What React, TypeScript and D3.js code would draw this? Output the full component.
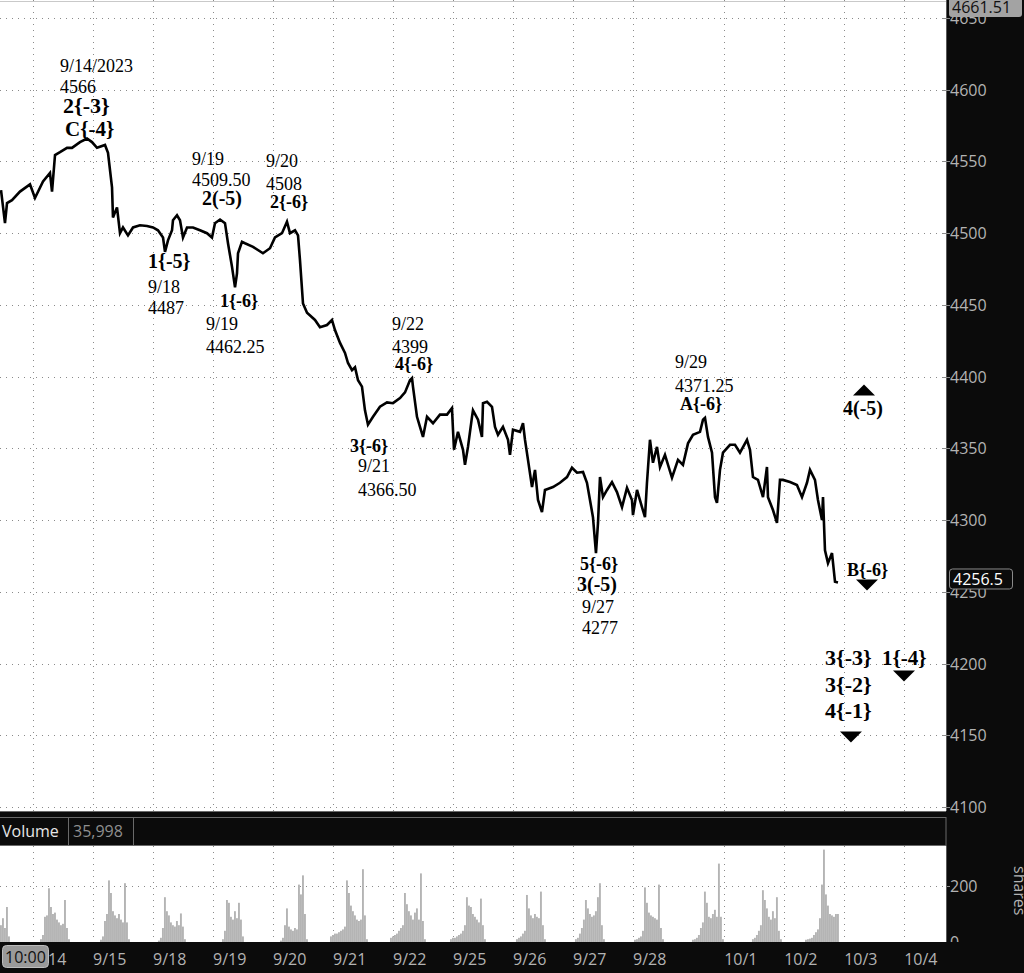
import React from 'react';
import * as d3 from 'd3';

const W = 1024;
const H = 973;

// ---- data ----
// price series: [session time in days since 9/14 gridline, price]
const priceSeries: [number, number][] = [
[-0.533,4530],[-0.467,4507],[-0.433,4521],[-0.35,4523],[-0.217,4529],[-0.05,4534],[0.033,4524.5],[0.167,4536],[0.283,4542],[0.317,4529],[0.367,4554.5],[0.45,4556.5],[0.567,4559.5],[0.65,4559.5],[0.783,4563.5],[0.9,4566],[0.983,4563.5],[1.067,4559.5],[1.2,4561.5],[1.25,4556],[1.317,4532],[1.333,4511],[1.4,4518],[1.45,4500],[1.5,4504],[1.583,4498.5],[1.667,4504],[1.783,4505.5],[1.9,4505],[2.0,4504],[2.083,4502],[2.167,4497],[2.2,4487],[2.25,4495],[2.317,4502],[2.333,4509],[2.4,4512.5],[2.45,4509],[2.5,4497],[2.567,4504],[2.667,4504],[2.783,4502],[2.9,4500],[2.983,4497],[3.033,4507],[3.117,4509.5],[3.2,4507],[3.25,4493],[3.317,4476.5],[3.367,4462.25],[3.4,4472],[3.417,4486],[3.483,4494],[3.533,4493],[3.667,4490.5],[3.833,4486],[3.95,4489.5],[4.033,4497],[4.15,4500],[4.233,4508],[4.283,4500],[4.367,4502],[4.417,4498.5],[4.45,4481],[4.5,4451],[4.567,4444.5],[4.7,4439.5],[4.783,4434.5],[4.9,4436],[4.983,4439.5],[5.033,4432.5],[5.117,4423.5],[5.2,4416.5],[5.25,4409.5],[5.317,4404.5],[5.367,4406.5],[5.417,4397.5],[5.483,4393],[5.533,4376.5],[5.583,4366.5],[5.667,4372],[5.783,4379],[5.9,4382],[6.0,4381.5],[6.117,4385],[6.2,4389],[6.283,4397.5],[6.317,4399],[6.333,4393],[6.4,4372],[6.45,4365],[6.5,4358],[6.567,4372],[6.667,4367.5],[6.783,4373.5],[6.9,4373.5],[6.983,4378],[7.0,4363],[7.017,4349],[7.083,4361.5],[7.167,4349],[7.2,4338.5],[7.25,4351],[7.317,4372],[7.333,4376.5],[7.417,4370],[7.483,4358],[7.5,4381.5],[7.567,4382.5],[7.65,4379],[7.7,4365],[7.75,4359.5],[7.833,4365],[7.917,4356],[7.95,4345.5],[8.0,4363],[8.117,4361.5],[8.167,4367.5],[8.2,4356],[8.25,4342],[8.317,4323],[8.367,4335],[8.417,4314],[8.483,4305.5],[8.533,4321],[8.667,4323],[8.783,4326],[8.9,4330],[8.983,4336.5],[9.067,4333],[9.167,4333.5],[9.233,4326],[9.283,4314],[9.333,4302],[9.383,4277],[9.417,4298],[9.45,4330],[9.5,4316],[9.567,4321],[9.65,4326.5],[9.733,4319.5],[9.817,4309],[9.9,4322.5],[9.983,4314],[10.0,4303.5],[10.067,4321],[10.15,4309],[10.2,4302],[10.233,4326],[10.283,4356],[10.333,4340],[10.4,4351],[10.45,4337],[10.533,4345.5],[10.65,4329.5],[10.75,4342],[10.833,4338.5],[10.917,4353.5],[11.0,4359.5],[11.117,4361.5],[11.167,4370],[11.2,4371.25],[11.25,4358],[11.317,4347],[11.367,4316],[11.4,4312],[11.45,4335],[11.5,4347],[11.617,4352.5],[11.7,4352.5],[11.783,4347],[11.9,4356],[11.95,4349],[12.0,4330],[12.083,4328],[12.167,4316],[12.233,4337],[12.25,4316],[12.333,4307],[12.4,4298],[12.45,4328],[12.5,4328],[12.617,4326.5],[12.733,4324.5],[12.817,4316],[12.9,4326],[12.95,4335],[13.033,4328],[13.083,4314],[13.15,4300],[13.167,4316],[13.2,4279],[13.25,4270],[13.317,4277],[13.367,4257],[13.417,4256.5]
];

const lastPrice = 4256.5;
const highMark = 4661.51;

const priceTicks = [4650, 4600, 4550, 4500, 4450, 4400, 4350, 4300, 4250, 4200, 4150, 4100];
const dateTickLabels = ['9/14', '9/15', '9/18', '9/19', '9/20', '9/21', '9/22', '9/25', '9/26', '9/27', '9/28', '10/1', '10/2', '10/3', '10/4'];
const dateTickTime = [0, 1, 2, 3, 4, 5, 6, 7, 8, 9, 10, 11.52, 12.52, 13.52, 14.52];

const volumeTicks = [0, 200];
const volumeLast = '35,998';
const volumeStep = 1 / 30;
const volumeSessionStart = [-0.55, 0.117, 1.117, 2.083, 3.15, 4.117, 4.95, 5.95, 6.95, 8.05, 9.033, 10.017, 10.983, 11.983, 12.867];
const volumeSessions = [
  [60, 85, 50, 125, 20],
  [10, 25, 90, 95, 192, 125, 100, 105, 80, 70, 60, 65, 150, 50, 10],
  [8, 20, 75, 100, 220, 175, 110, 95, 85, 100, 80, 70, 210, 70, 10],
  [5, 15, 50, 160, 110, 95, 70, 60, 55, 75, 60, 102, 55, 10],
  [10, 40, 150, 140, 90, 80, 110, 85, 140, 80, 20],
  [5, 15, 60, 120, 55, 45, 40, 50, 45, 205, 170, 238, 100, 10],
  [20, 25, 30, 30, 35, 40, 45, 55, 220, 175, 130, 110, 95, 80, 75, 80, 260, 95, 10],
  [15, 20, 25, 30, 40, 50, 60, 175, 135, 110, 95, 80, 105, 120, 80, 245, 75, 10],
  [10, 15, 15, 20, 25, 30, 40, 60, 160, 130, 125, 100, 90, 80, 70, 155, 60, 10],
  [10, 15, 20, 30, 40, 168, 120, 95, 85, 100, 90, 85, 180, 60, 10],
  [10, 15, 30, 50, 80, 150, 120, 100, 90, 95, 110, 160, 210, 60, 10],
  [8, 10, 15, 20, 40, 195, 140, 105, 95, 90, 85, 80, 205, 50, 10],
  [8, 10, 15, 25, 50, 70, 180, 140, 90, 85, 100, 115, 90, 280, 90, 10],
  [10, 15, 25, 40, 60, 185, 150, 120, 90, 80, 110, 85, 160, 40, 10],
  [8, 10, 12, 15, 25, 35, 45, 85, 205, 330, 170, 130, 100, 95, 90, 100, 100],
];

// annotation text anchored at (time, price)
const infoLabels: [string, number, number][] = [
  ['9/14/2023', 0.45, 4612.4],
  ['4566', 0.45, 4597.7],
  ['9/19', 2.65, 4547.5],
  ['4509.50', 2.65, 4532.9],
  ['9/20', 3.883, 4546.1],
  ['4508', 3.883, 4530.1],
  ['9/18', 1.917, 4458.3],
  ['4487', 1.917, 4443.7],
  ['9/19', 2.883, 4432.5],
  ['4462.25', 2.883, 4416.5],
  ['9/22', 5.983, 4432.5],
  ['4399', 5.983, 4416.5],
  ['9/21', 5.417, 4333.5],
  ['4366.50', 5.417, 4316.8],
  ['9/29', 10.7, 4406.0],
  ['4371.25', 10.7, 4389.3],
  ['9/27', 9.15, 4235.2],
  ['4277', 9.15, 4220.6],
];
// wave labels: [text, time, price, degree]
const waveLabels: [string, number, number, number][] = [
  ['2{-3}', 0.5, 4583.8, -3],
  ['C{-4}', 0.533, 4567.8, -4],
  ['2(-5)', 2.817, 4519.7, -5],
  ['2{-6}', 3.95, 4517.6, -6],
  ['1{-5}', 1.917, 4475.7, -5],
  ['1{-6}', 3.117, 4448.6, -6],
  ['4{-6}', 6.033, 4404.6, -6],
  ['3{-6}', 5.283, 4347.5, -6],
  ['A{-6}', 10.783, 4376.7, -6],
  ['4(-5)', 13.5, 4373.3, -5],
  ['5{-6}', 9.117, 4265.2, -6],
  ['3(-5)', 9.067, 4250.6, -5],
  ['B{-6}', 13.567, 4261.0, -6],
  ['3{-3}', 13.2, 4199.0, -3],
  ['1{-4}', 14.15, 4199.0, -4],
  ['3{-2}', 13.2, 4180.2, -2],
  ['4{-1}', 13.2, 4162.0, -1],
];
// triangles: [time, price, direction]
const markers: [number, number, 'up' | 'down'][] = [
  [13.85, 4390.7, 'up'],
  [13.9, 4254.8, 'down'],
  [14.517, 4191.3, 'down'],
  [13.633, 4148.8, 'down'],
];

// ---- layout ----
const plotRight = 946;
const plotTop = 0;
const plotBottom = 811;
const volTop = 846;
const volBottom = 942;

const sansFont = "'Open Sans', 'Noto Sans', sans-serif";
const serifFont = "'Liberation Serif', 'Times New Roman', serif";

const waveSize: Record<string, number> = { '-1': 22, '-2': 22, '-3': 22, '-4': 21, '-5': 20, '-6': 18 };

export default function App() {
  const x = d3.scaleLinear().domain([-0.55, 15.217]).range([0, plotRight]);
  const y = d3.scaleLinear().domain([4100, 4650]).range([807, 18]);
  const yv = d3.scaleLinear().domain([0, 200]).range([volBottom, 886]);

  const line = d3
    .line<[number, number]>()
    .x((d) => x(d[0]))
    .y((d) => y(d[1]));

  const bars: { t: number; v: number }[] = [];
  volumeSessions.forEach((vals, i) => {
    vals.forEach((v, j) => bars.push({ t: volumeSessionStart[i] + j * volumeStep, v }));
  });
  const barW = x(volumeStep) - x(0) - 0.1;

  const gridColor = '#8a8a8a';
  const dash = '1 5';

  return (
    <svg
      width={W}
      height={H}
      viewBox={`0 0 ${W} ${H}`}
      style={{ position: 'absolute', left: 0, top: 0, display: 'block' }}
    >
      <defs>
        <clipPath id="plotClip">
          <rect x={0} y={plotTop} width={plotRight} height={plotBottom - plotTop} />
        </clipPath>
        <clipPath id="volAxisClip">
          <rect x={plotRight} y={volTop} width={W - plotRight} height={volBottom - volTop + 2} />
        </clipPath>
      </defs>
      <rect x={0} y={0} width={W} height={H} fill="#0b0b0b" />
      {/* main plot */}
      <rect x={0} y={plotTop} width={plotRight} height={plotBottom - plotTop} fill="#ffffff" />
      <line x1={0} x2={plotRight} y1={1.5} y2={1.5} stroke="#c9c9c9" strokeWidth={1} />
      {priceTicks.map((p) => (
        <line key={'hg' + p} x1={0} x2={plotRight} y1={Math.round(y(p)) + 0.5} y2={Math.round(y(p)) + 0.5} stroke={gridColor} strokeDasharray={dash} />
      ))}
      {dateTickTime.map((t, i) => (
        <line key={'vg' + i} x1={Math.round(x(t)) + 0.5} x2={Math.round(x(t)) + 0.5} y1={plotTop} y2={plotBottom} stroke={gridColor} strokeDasharray={dash} />
      ))}
      <g clipPath="url(#plotClip)">
        <path d={line(priceSeries) || ''} fill="none" stroke="#000" strokeWidth={2.6} strokeLinejoin="miter" />
      </g>
      {/* annotations */}
      {infoLabels.map(([txt, t, p], i) => (
        <text key={'il' + i} x={x(t)} y={y(p)} fontFamily={serifFont} fontSize={18} fill="#000">
          {txt}
        </text>
      ))}
      {waveLabels.map(([txt, t, p, deg], i) => (
        <text key={'wl' + i} x={x(t)} y={y(p)} fontFamily={serifFont} fontSize={waveSize[String(deg)]} fontWeight="bold" fill="#000">
          {txt}
        </text>
      ))}
      {markers.map(([t, p, dir], i) => {
        const cx = x(t);
        const cy = y(p);
        const hw = 11;
        const hh = 5.5;
        const d =
          dir === 'up'
            ? `M${cx - hw},${cy + hh}L${cx + hw},${cy + hh}L${cx},${cy - hh}Z`
            : `M${cx - hw},${cy - hh}L${cx + hw},${cy - hh}L${cx},${cy + hh}Z`;
        return <path key={'mk' + i} d={d} fill="#000" />;
      })}
      {/* price axis */}
      <line x1={plotRight + 0.5} x2={plotRight + 0.5} y1={0} y2={plotBottom} stroke="#5a5a5a" />
      {priceTicks.map((p) => (
        <g key={'pt' + p}>
          <line x1={plotRight - 4} x2={plotRight + 4} y1={Math.round(y(p)) + 0.5} y2={Math.round(y(p)) + 0.5} stroke="#8a8a8a" />
          <text x={plotRight + 4} y={y(p) + 6} fontFamily={sansFont} fontSize={16} fill="#b3b3b3">
            {p}
          </text>
        </g>
      ))}
      {/* high badge */}
      <rect x={plotRight + 3} y={-4} width={73} height={21} rx={3} fill="#a3a3a3" />
      <text x={plotRight + 6} y={13} fontFamily={sansFont} fontSize={16} fill="#111">
        {highMark}
      </text>
      {/* last price badge */}
      <rect x={plotRight + 3.5} y={y(lastPrice) - 13.5} width={63} height={20} rx={3} fill="#0b0b0b" stroke="#8a8a8a" />
      <text x={plotRight + 7} y={y(lastPrice) + 2.5} fontFamily={sansFont} fontSize={16} fill="#ffffff">
        {lastPrice}
      </text>
      {/* separator & volume header */}
      <line x1={0} x2={plotRight} y1={plotBottom + 0.5} y2={plotBottom + 0.5} stroke="#6a6a6a" />
      <rect x={-1} y={817.5} width={plotRight + 1} height={28} fill="#0b0b0b" stroke="#6a6a6a" />
      <text x={2} y={837} fontFamily={sansFont} fontSize={16} fill="#e6e6e6">
        Volume
      </text>
      <line x1={68.5} x2={68.5} y1={818} y2={845} stroke="#6a6a6a" />
      <text x={73} y={837} fontFamily={sansFont} fontSize={16} fill="#8f8f8f">
        {volumeLast}
      </text>
      <line x1={133.5} x2={133.5} y1={818} y2={845} stroke="#6a6a6a" />
      {/* volume panel */}
      <rect x={0} y={volTop} width={plotRight} height={volBottom - volTop} fill="#ffffff" />
      {volumeTicks
        .filter((v) => v > 0)
        .map((v) => (
          <line key={'vh' + v} x1={0} x2={plotRight} y1={Math.round(yv(v)) + 0.5} y2={Math.round(yv(v)) + 0.5} stroke={gridColor} strokeDasharray={dash} />
        ))}
      {dateTickTime.map((t, i) => (
        <line key={'vv' + i} x1={Math.round(x(t)) + 0.5} x2={Math.round(x(t)) + 0.5} y1={volTop} y2={volBottom} stroke={gridColor} strokeDasharray={dash} />
      ))}
      {bars.map((b, i) => (
        <rect key={'vb' + i} x={x(b.t)} y={yv(b.v)} width={barW} height={volBottom - yv(b.v)} fill="#b4b4b4" />
      ))}
      <g clipPath="url(#volAxisClip)">
        {volumeTicks.map((v) => (
          <g key={'vt' + v}>
            <line x1={plotRight - 4} x2={plotRight + 4} y1={Math.round(yv(v)) + 0.5} y2={Math.round(yv(v)) + 0.5} stroke="#8a8a8a" />
            <text x={plotRight + 4} y={yv(v) + 6} fontFamily={sansFont} fontSize={16} fill="#b3b3b3">
              {v}
            </text>
          </g>
        ))}
      </g>
      <text
        transform={`translate(1014, 866) rotate(90)`}
        fontFamily={sansFont}
        fontSize={16}
        fill="#b3b3b3"
      >
        shares
      </text>
      <line x1={plotRight + 0.5} x2={plotRight + 0.5} y1={volTop} y2={volBottom} stroke="#5a5a5a" />
      {/* date axis */}
      <rect x={0} y={volBottom} width={W} height={H - volBottom} fill="#0b0b0b" />
      {dateTickTime.map((t, i) => (
        <text key={'dl' + i} x={x(t)} y={965} fontFamily={sansFont} fontSize={16} fill="#b3b3b3">
          {dateTickLabels[i]}
        </text>
      ))}
      <rect x={2.5} y={945.5} width={46} height={22} rx={4} fill="#9a9a9a" stroke="#bdbdbd" />
      <text x={5} y={963} fontFamily={sansFont} fontSize={16} fill="#111">
        10:00
      </text>
    </svg>
  );
}
